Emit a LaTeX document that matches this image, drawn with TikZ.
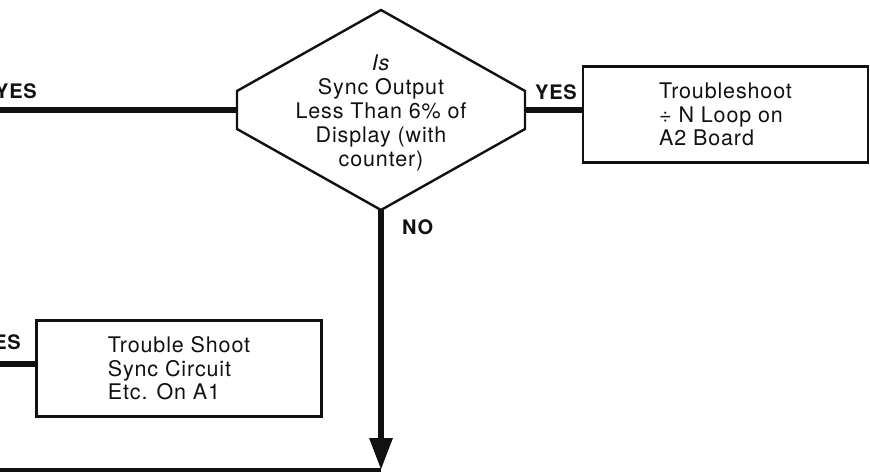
\documentclass[tikz,border=0pt]{standalone}
\usepackage{fontspec}
\setmainfont{TeX Gyre Heros}[LetterSpace=4]
\usepackage{tikz}
\usetikzlibrary{arrows.meta,positioning,calc}
\definecolor{chartink}{HTML}{111111}

\begin{document}
\begin{tikzpicture}[x=1pt,y=-1pt,
  proc/.style={draw=chartink, line width=2.4pt, minimum width=285pt,
               minimum height=96pt, align=left, inner sep=0pt,
               font=\fontsize{21.5}{23.5}\selectfont, text=chartink},
  ask/.style={align=center, inner sep=0pt,
              font=\fontsize{21.5}{23.8}\selectfont, text=chartink},
  edge/.style={draw=chartink, line width=2.4pt, line join=miter},
  flow/.style={draw=chartink, line width=6pt},
  lbl/.style={font=\fontsize{20}{20}\selectfont\bfseries, inner sep=0pt,
              text=chartink}
]
  \useasboundingbox (0,0) rectangle (870,473);

  % decision
  \node[ask] (dec) at (381,113) {\textit{Is}\\Sync Output\\Less Than 6\% of\\Display (with\\counter)};
  \coordinate (decN) at (381,10);
  \coordinate (decE) at (525,110);
  \coordinate (decS) at (381,210);
  \coordinate (decW) at (237,110);
  \draw[edge] (decN) -- (525,91) -- (525,129) -- (decS)
    -- (237,129) -- (237,91) -- cycle;

  % boxes
  \node[proc] (trbA) at (725.5,114.5) {Troubleshoot\\÷ N Loop on\\A2 Board};
  \node[proc] (trbB) at (179,368.5) {Trouble Shoot\\Sync Circuit\\Etc. On A1};

  % free ends
  \coordinate (inA) at (-5,110);
  \coordinate (inB) at (-5,364);
  \coordinate (join) at (381,470);
  \coordinate (outB) at (-5,470);

  \draw[flow] (inA) -- (decW);
  \draw[flow] (decE) -- (decE -| trbA.west);
  \draw[flow] (inB) -- (inB -| trbB.west);
  \draw[flow, -{Triangle[length=32pt,width=22pt]}] (decS) -- (join);
  \draw[flow, line width=4pt] (join) -- (outB);

  % labels
  \node[lbl, anchor=base east] (yesA) at (37,99) {YES};
  \node[lbl, anchor=base west] (yesR) at (535,100) {YES};
  \node[lbl, anchor=base west] (no) at (402,235) {NO};
  \node[lbl, anchor=base east] (yesB) at (21,349) {YES};

\end{tikzpicture}
\end{document}
